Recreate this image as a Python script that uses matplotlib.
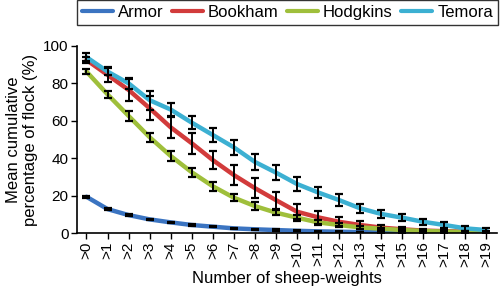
import matplotlib
matplotlib.use('Agg')
import matplotlib.pyplot as plt

plt.rcParams['font.family'] = ['Liberation Sans', 'DejaVu Sans']

# Category labels along the x axis
categories = ['>%d' % i for i in range(20)]

# Mean cumulative percentage of flock
armor = [19.4, 12.8, 9.6, 7.3, 5.7, 4.3, 3.4, 2.5, 2.0, 1.6,
         1.2, 0.9, 0.7, 0.5, 0.4, 0.3, 0.2, 0.2, 0.1, 0.1]
bookham = [92.5, 84.5, 76.5, 66.7, 56.5, 48.0, 39.0, 31.0, 24.0, 17.6,
           11.4, 8.4, 6.0, 4.3, 2.9, 2.0, 1.3, 1.0, 0.7, 0.5]
hodgkins = [86.3, 74.1, 62.6, 51.2, 41.2, 32.5, 25.0, 18.9, 14.4, 10.9,
            8.2, 5.7, 4.3, 3.0, 2.3, 1.6, 1.1, 0.8, 0.5, 0.4]
temora = [94.0, 86.3, 80.0, 71.0, 66.0, 59.0, 52.4, 45.8, 38.0, 32.3,
          26.2, 21.7, 17.6, 13.2, 10.2, 8.2, 6.0, 4.3, 2.5, 1.6]

# Error bar half-widths
armor_err = [0.6, 0.5, 0.5, 0.4, 0.4, 0.4, 0.3, 0.3, 0.3, 0.3,
             0.3, 0.3, 0.2, 0.2, 0.2, 0.2, 0.2, 0.2, 0.1, 0.1]
bookham_err = [1.5, 4.0, 6.0, 6.5, 5.5, 5.5, 5.0, 5.5, 5.5, 4.5,
               4.0, 3.5, 2.5, 2.0, 1.5, 1.0, 0.8, 0.6, 0.5, 0.4]
hodgkins_err = [1.5, 2.0, 2.5, 2.5, 2.5, 2.5, 2.5, 2.0, 2.0, 1.5,
                1.5, 1.2, 1.0, 0.8, 0.6, 0.5, 0.4, 0.3, 0.3, 0.2]
temora_err = [2.0, 2.0, 3.0, 5.0, 3.5, 3.5, 4.0, 4.0, 4.5, 4.0,
              3.5, 3.0, 3.0, 2.5, 2.0, 2.0, 1.5, 1.5, 1.2, 1.0]

series = [
    ('Armor', armor, armor_err, '#3b74c1'),
    ('Bookham', bookham, bookham_err, '#d23b3b'),
    ('Hodgkins', hodgkins, hodgkins_err, '#9fbf3b'),
    ('Temora', temora, temora_err, '#3cb0d2'),
]

fig = plt.figure(figsize=(5, 2.87), dpi=100)
ax = fig.add_axes([0.154, 0.188, 0.84, 0.652])

x = list(range(len(categories)))
for name, vals, errs, color in series:
    ax.plot(x, vals, color=color, linewidth=3.2, label=name,
            solid_capstyle='round', zorder=2)
for name, vals, errs, color in series:
    ax.errorbar(x, vals, yerr=errs, fmt='none', ecolor='black',
                elinewidth=1.4, capsize=3, capthick=1.6, zorder=3)

ax.set_xlim(-0.45, 19.5)
ax.set_ylim(0, 100)
ax.set_yticks([0, 20, 40, 60, 80, 100])
ax.set_xticks(x)
ax.set_xticklabels(categories, rotation=90)
ax.tick_params(axis='both', labelsize=11, direction='out', length=4,
               width=1, pad=2)
for side in ['top', 'right']:
    ax.spines[side].set_visible(False)
for side in ['left', 'bottom']:
    ax.spines[side].set_linewidth(1.2)

ax.set_ylabel('Mean cumulative\npercentage of flock (%)', fontsize=12,
              linespacing=1.1, labelpad=4)
ax.set_xlabel('Number of sheep-weights', fontsize=12, labelpad=3)

leg = fig.legend(loc='lower left', bbox_to_anchor=(0.154, 0.913, 0.842, 0.08),
                 mode='expand', ncol=4, fontsize=12, frameon=True,
                 fancybox=False, handlelength=1.85, handletextpad=0.3,
                 columnspacing=1.0, borderpad=0.3, borderaxespad=0)
leg.get_frame().set_edgecolor('black')
leg.get_frame().set_linewidth(1.0)
for line in leg.get_lines():
    line.set_linewidth(3.0)

fig.savefig('out.png', dpi=100)
